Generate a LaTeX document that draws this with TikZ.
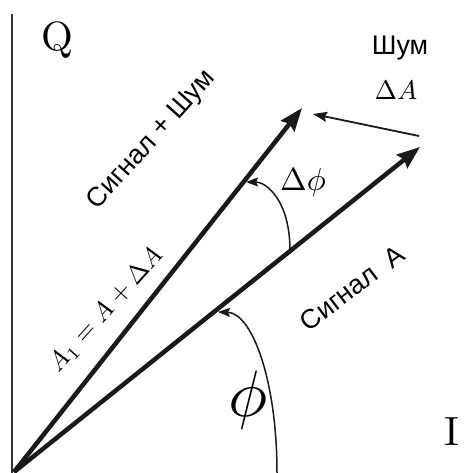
\documentclass[tikz,border=0pt]{standalone}
\usepackage{fontspec}
\setsansfont{Liberation Sans}
\usetikzlibrary{arrows.meta}
\begin{document}
\begin{tikzpicture}[x=1bp,y=-1bp,
  vec/.style={line width=4.5bp, black!90, -{Stealth[length=23bp,width=17bp,inset=3bp]}},
  noisevec/.style={line width=1.8bp, black!90, -{Stealth[length=14bp,width=10bp,inset=2bp]}},
  angarc/.style={line width=1.5bp, black!90, -{Stealth[length=12bp,width=9bp,inset=2bp]}},
  axisline/.style={line width=2bp, black!80},
  serifbig/.style={inner sep=0pt, font=\fontsize{10}{10}\selectfont\rmfamily, scale=4.1},
  cyr/.style={inner sep=0pt, font=\sffamily\fontsize{27}{27}\selectfont},
  mathlbl/.style={inner sep=0pt, font=\fontsize{10}{10}\selectfont, scale=#1/10}]
\useasboundingbox (0,0) rectangle (473,473);
% key points
\coordinate (O) at (14,472);
\coordinate (axtop) at (12,14);
\coordinate (axbot) at (12,473);
\coordinate (S) at (420,147);
\coordinate (N) at (302,108);
\coordinate (nt) at (419,136);
\coordinate (nh) at (313,114);
\coordinate (dpa) at (290,251);
\coordinate (dpb) at (246,182);
\coordinate (pa) at (277,473);
\coordinate (pb) at (218,312);
% axis
\draw[axisline] (axtop) -- (axbot);
% vectors
\draw[vec] (O) -- (S);
\draw[vec] (O) -- (N);
\draw[noisevec] (nt) -- (nh);
% angle arcs
\draw[angarc] (dpa) .. controls (290,200) and (266,182) .. (dpb);
\draw[angarc] (pa) .. controls (277,380) and (252,313) .. (pb);
% labels
\node[serifbig] (q) at (57,40) {Q};
\node[serifbig] (i) at (452,432) {I};
\node[cyr] (noise) at (400,48) {Шум};
\node[mathlbl=27] (dA) at (396,90) {$\Delta A$};
\node[mathlbl=32] (dphi) at (303,183) {$\Delta\phi$};
\node[mathlbl=66] (phi) at (248,400) {$\phi$};
\node[cyr, rotate=48] (sn) at (152,140) {Сигнал + Шум};
\node[mathlbl=26, rotate=48] (eq) at (106,310) {$A_1 = A + \Delta A$};
\node[cyr, rotate=37] (sa) at (352,288) {Сигнал\ \ A};
\end{tikzpicture}
\end{document}
